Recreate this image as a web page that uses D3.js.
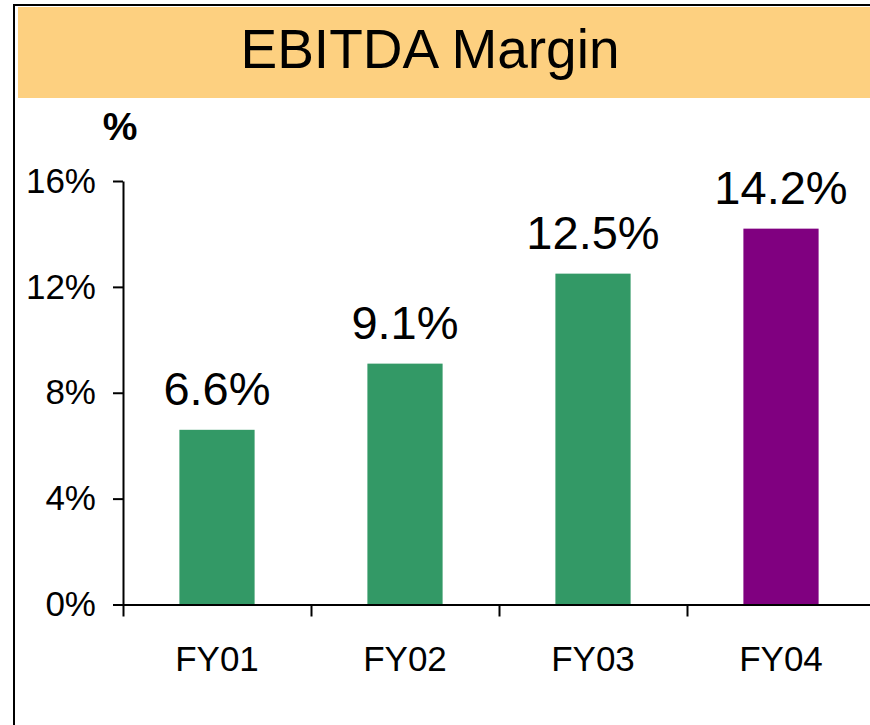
<!DOCTYPE html>
<html>
<head>
<meta charset="utf-8">
<script src="https://cdn.jsdelivr.net/npm/d3@7"></script>
<style>
  body { margin: 0; background: #fff; }
  svg { display: block; font-family: "Liberation Sans", Arial, sans-serif; }
</style>
</head>
<body>
<div id="wrapper"></div>
<script>
// chart data
const categories = ["FY01", "FY02", "FY03", "FY04"]
const margins = [6.6, 9.1, 12.5, 14.2]
const barColors = ["#339966", "#339966", "#339966", "#800080"]
const yTicks = [0, 4, 8, 12, 16]
const title = "EBITDA Margin"
const unitLabel = "%"

function drawChart() {
  const width = 870
  const height = 725

  const dims = {
    left: 123,
    right: 875,
    top: 181,
    bottom: 604.5,
  }

  const svg = d3.select("#wrapper")
    .append("svg")
      .attr("width", width)
      .attr("height", height)

  // outer frame (right and bottom edges fall outside the picture)
  svg.append("rect")
      .attr("x", 14)
      .attr("y", 5)
      .attr("width", 900)
      .attr("height", 800)
      .attr("fill", "none")
      .attr("stroke", "#000")
      .attr("stroke-width", 2)

  // title band
  svg.append("rect")
      .attr("x", 18)
      .attr("y", 7)
      .attr("width", width - 18)
      .attr("height", 91)
      .attr("fill", "#FDD080")

  svg.append("text")
      .attr("x", 430)
      .attr("y", 68)
      .attr("text-anchor", "middle")
      .attr("font-size", 55)
      .attr("fill", "#000")
      .text(title)

  svg.append("text")
      .attr("x", 120)
      .attr("y", 140)
      .attr("text-anchor", "middle")
      .attr("font-size", 39)
      .attr("font-weight", "bold")
      .text(unitLabel)

  // scales
  const yScale = d3.scaleLinear()
    .domain([0, 16])
    .range([dims.bottom, dims.top])

  const xScale = d3.scaleBand()
    .domain(categories)
    .range([dims.left, dims.right])
    .paddingInner(0.6)
    .paddingOuter(0.3)

  const slotScale = d3.scaleLinear()
    .domain([0, categories.length])
    .range([dims.left, dims.right])

  // bars
  svg.append("g")
    .selectAll("rect")
    .data(categories)
    .join("rect")
      .attr("x", d => xScale(d))
      .attr("width", xScale.bandwidth())
      .attr("y", (d, i) => yScale(margins[i]))
      .attr("height", (d, i) => dims.bottom - yScale(margins[i]))
      .attr("fill", (d, i) => barColors[i])

  // value labels
  svg.append("g")
    .selectAll("text")
    .data(categories)
    .join("text")
      .attr("x", d => xScale(d) + xScale.bandwidth() / 2)
      .attr("y", (d, i) => yScale(margins[i]) - 25)
      .attr("text-anchor", "middle")
      .attr("font-size", 47)
      .attr("fill", "#000")
      .text((d, i) => margins[i].toFixed(1) + "%")

  // y axis
  const yAxis = svg.append("g")
      .attr("transform", `translate(${dims.left},0)`)
      .call(d3.axisLeft(yScale)
        .tickValues(yTicks)
        .tickSize(10)
        .tickSizeOuter(0)
        .tickPadding(17)
        .tickFormat(d => d + "%"))

  yAxis.selectAll("text")
      .attr("font-size", 35)
      .attr("fill", "#000")
      .attr("font-family", "Liberation Sans, Arial, sans-serif")

  // x axis: ticks at slot boundaries
  svg.append("g")
      .attr("transform", `translate(0,${dims.bottom})`)
      .call(d3.axisBottom(slotScale)
        .tickValues(d3.range(categories.length + 1))
        .tickSize(12)
        .tickSizeOuter(0)
        .tickFormat(""))

  // x labels
  svg.append("g")
    .selectAll("text")
    .data(categories)
    .join("text")
      .attr("x", d => xScale(d) + xScale.bandwidth() / 2)
      .attr("y", 671)
      .attr("text-anchor", "middle")
      .attr("font-size", 35)
      .attr("fill", "#000")
      .text(d => d)

  svg.selectAll(".domain, .tick line")
      .attr("stroke", "#000")
      .attr("stroke-width", 2)
}

drawChart()
</script>
</body>
</html>
